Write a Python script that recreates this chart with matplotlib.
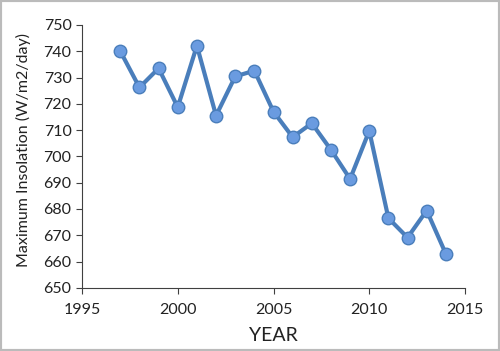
import matplotlib.pyplot as plt
from matplotlib.patches import Rectangle

years = [1997, 1998, 1999, 2000, 2001, 2002, 2003, 2004, 2005, 2006,
         2007, 2008, 2009, 2010, 2011, 2012, 2013, 2014]
insolation = [740.0, 726.2, 733.5, 718.7, 742.1, 715.5, 730.4, 732.6, 717.0, 707.3,
              712.6, 702.5, 691.4, 709.7, 676.5, 669.1, 679.4, 662.9]

plt.rcParams['font.family'] = ['Lato', 'DejaVu Sans']

fig = plt.figure(figsize=(5, 3.51), dpi=100)
ax = fig.add_axes([0.164, 0.18, 0.766, 0.749])

ax.plot(years, insolation, color="#4A7EBB", linewidth=3, marker="o",
        markersize=9, markerfacecolor="#6A9BE0", markeredgecolor="#4A7EBB",
        markeredgewidth=1, solid_joinstyle="round")

ax.set_xlim(1995, 2015)
ax.set_ylim(650, 750)
ax.set_xticks(range(1995, 2016, 5))
ax.set_yticks(range(650, 751, 10))
ax.spines['top'].set_visible(False)
ax.spines['right'].set_visible(False)
ax.spines['left'].set_color("#404040")
ax.spines['bottom'].set_color("#404040")
ax.tick_params(direction="out", length=4, color="#404040", labelsize=11.5, colors="#222222")
ax.tick_params(axis="x", pad=7)
ax.set_ylabel("Maximum Insolation (W/m2/day)", fontsize=11.5, color="#222222")
ax.yaxis.set_label_coords(-0.133, 0.525)
ax.set_xlabel("YEAR", fontsize=14, color="#222222")
ax.xaxis.set_label_coords(0.5, -0.15)

fig.patches.append(Rectangle((0, 0), 1, 1, transform=fig.transFigure,
                             fill=False, edgecolor="#BBBBBB", linewidth=3))

plt.savefig("out.png", dpi=100)
